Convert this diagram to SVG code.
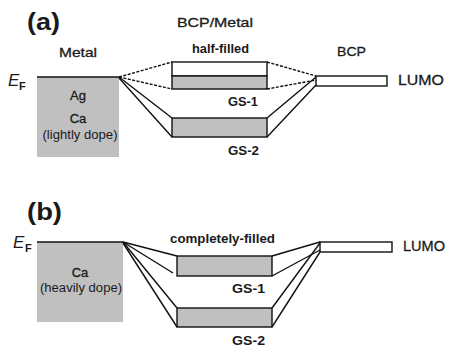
<svg xmlns="http://www.w3.org/2000/svg" width="449" height="349" viewBox="0 0 449 349">
<style>
text{font-family:"Liberation Sans",Arial,sans-serif;fill:#1a1a1a}
.r{stroke:#1a1a1a;stroke-width:0.3}
.b{font-weight:bold}
.lbl{font-size:13.5px}
.tag{font-size:23px;font-weight:bold}
.gs{font-size:12.5px;font-weight:bold}
.mid{text-anchor:middle}
.box{stroke:#111;stroke-width:1.4}
.gray{fill:#c0c0c0}
.white{fill:#fff}
.ln{stroke:#111;stroke-width:1.4;fill:none}
.dash{stroke-dasharray:3 1.5}
</style>
<rect width="449" height="349" fill="#fff"/>

<!-- Panel (a) -->
<g id="label-a">
<text class="tag" x="27" y="30" textLength="33" lengthAdjust="spacingAndGlyphs">(a)</text>
<text class="lbl r" x="177" y="27" textLength="76" lengthAdjust="spacingAndGlyphs">BCP/Metal</text>
<text class="lbl r" x="59" y="57" textLength="38" lengthAdjust="spacingAndGlyphs">Metal</text>
<text class="lbl r" x="337" y="56" textLength="29" lengthAdjust="spacingAndGlyphs">BCP</text>
</g>
<g id="ef-a">
<text x="8" y="86" style="font-size:17px;font-style:italic">E</text>
<text x="19" y="90" style="font-size:11px;font-weight:bold">F</text>
</g>
<g id="metal-a">
<rect class="gray" x="37" y="77" width="82" height="80"/>
<line class="ln" x1="37" y1="77" x2="119" y2="77"/>
<text class="mid r" x="78" y="100" style="font-size:13px">Ag</text>
<text class="mid r" x="78" y="123" style="font-size:13px">Ca</text>
<text class="mid" x="80" y="139" style="font-size:12px" textLength="75" lengthAdjust="spacingAndGlyphs">(lightly dope)</text>
</g>
<g id="halffilled-a">
<text class="b" x="192" y="53" style="font-size:12.5px" textLength="57" lengthAdjust="spacingAndGlyphs">half-filled</text>
<rect class="box white" x="172" y="62" width="95" height="14"/>
<rect class="box gray" x="172" y="76" width="95" height="13"/>
<text class="gs" x="228" y="106" textLength="30" lengthAdjust="spacingAndGlyphs">GS-1</text>
</g>
<g id="gs2-a">
<rect class="box gray" x="172" y="118" width="95" height="19"/>
<text class="gs" x="228" y="155" textLength="31" lengthAdjust="spacingAndGlyphs">GS-2</text>
</g>
<g id="lumo-a">
<rect class="box white" x="316" y="76" width="71" height="10"/>
<text class="r" x="398" y="85" style="font-size:15px" textLength="46" lengthAdjust="spacingAndGlyphs">LUMO</text>
</g>
<g id="connectors-a">
<line class="ln dash" x1="119" y1="77" x2="172" y2="62"/>
<line class="ln dash" x1="119" y1="77" x2="172" y2="89"/>
<line class="ln dash" x1="267" y1="62" x2="316" y2="76"/>
<line class="ln dash" x1="267" y1="89" x2="316" y2="80"/>
<line class="ln" x1="119" y1="77" x2="172" y2="118"/>
<line class="ln" x1="119" y1="78" x2="172" y2="137"/>
<line class="ln" x1="267" y1="118" x2="316" y2="77"/>
<line class="ln" x1="267" y1="137" x2="316" y2="85"/>
</g>

<!-- Panel (b) -->
<g id="label-b">
<text class="tag" x="27" y="220" textLength="35" lengthAdjust="spacingAndGlyphs">(b)</text>
</g>
<g id="ef-b">
<text x="13" y="248" style="font-size:17px;font-style:italic">E</text>
<text x="25" y="252" style="font-size:11px;font-weight:bold">F</text>
</g>
<g id="metal-b">
<rect class="gray" x="37" y="242" width="86" height="80"/>
<line class="ln" x1="37" y1="242" x2="123" y2="242"/>
<text class="mid r" x="80" y="277" style="font-size:13px">Ca</text>
<text class="mid" x="81" y="292" style="font-size:12px" textLength="82" lengthAdjust="spacingAndGlyphs">(heavily dope)</text>
</g>
<g id="gs1-b">
<text class="b" x="170" y="243" style="font-size:12.5px" textLength="105" lengthAdjust="spacingAndGlyphs">completely-filled</text>
<rect class="box gray" x="177" y="256" width="95" height="20"/>
<text class="gs" x="232" y="293" textLength="33" lengthAdjust="spacingAndGlyphs">GS-1</text>
</g>
<g id="gs2-b">
<rect class="box gray" x="177" y="308" width="95" height="19"/>
<text class="gs" x="232" y="345" textLength="33" lengthAdjust="spacingAndGlyphs">GS-2</text>
</g>
<g id="lumo-b">
<rect class="box white" x="320" y="242" width="72" height="10"/>
<text class="r" x="403" y="251" style="font-size:15px" textLength="42" lengthAdjust="spacingAndGlyphs">LUMO</text>
</g>
<g id="connectors-b">
<line class="ln" x1="123" y1="242" x2="177" y2="256"/>
<line class="ln" x1="123" y1="242" x2="173" y2="273"/>
<line class="ln" x1="123" y1="242" x2="177" y2="308"/>
<line class="ln" x1="123" y1="243" x2="177" y2="327"/>
<line class="ln" x1="272" y1="256" x2="320" y2="242"/>
<line class="ln" x1="272" y1="276" x2="320" y2="250"/>
<line class="ln" x1="272" y1="308" x2="320" y2="243"/>
<line class="ln" x1="272" y1="327" x2="320" y2="252"/>
</g>
</svg>
